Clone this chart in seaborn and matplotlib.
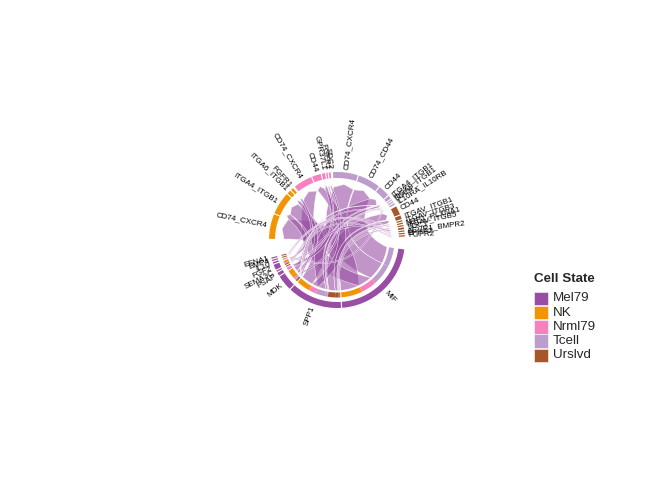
import numpy as np
import pandas as pd
import matplotlib
matplotlib.use("Agg")
import matplotlib.pyplot as plt
import seaborn as sns
from matplotlib.path import Path
from matplotlib.patches import PathPatch, Wedge, Rectangle

# ---------------- data ----------------
cell_states = ["Mel79", "NK", "Nrml79", "Tcell", "Urslvd"]
state_colors = ["#984EA3", "#F29403", "#F781BF", "#BC9DCC", "#A65628"]

ligands = ["MIF", "SPP1", "MDK", "PSAP", "SEMA3C", "FGF2", "IL10", "BMP4", "EFNA1"]

rec_cells = ["NK"] * 4 + ["Nrml79"] * 5 + ["Tcell"] * 7 + ["Urslvd"] * 9
rec_names = ["CD74_CXCR4", "ITGA4_ITGB1", "ITGA6_ITGB1", "FGFR1",
             "CD74_CXCR4", "CD44", "GPR37L1", "FGFR1", "SDC2",
             "CD74_CXCR4", "CD74_CD44", "CD44", "ITGA4_ITGB1", "ITGA9_ITGB1", "SDC4", "IL10RA_IL10RB",
             "CD44", "ITGAV_ITGB1", "ITGAV_ITGB3", "NRP1_PLXNA1", "ITGAV_ITGB5", "SDC1",
             "ACVR1_BMPR2", "EPHA2", "FGFR2"]

link_src = ["MIF", "MIF", "MIF", "MIF",
            "SPP1", "SPP1", "SPP1", "SPP1", "SPP1", "SPP1", "SPP1", "SPP1", "SPP1",
            "MDK", "MDK", "MDK", "MDK", "MDK", "MDK",
            "PSAP", "SEMA3C", "FGF2", "FGF2", "FGF2", "IL10", "BMP4", "EFNA1"]
link_cell = ["Tcell", "Tcell", "Nrml79", "NK",
             "Urslvd", "Urslvd", "Urslvd", "Urslvd", "Tcell", "Tcell", "Tcell", "Nrml79", "NK",
             "NK", "NK", "Nrml79", "Tcell", "Urslvd", "Tcell",
             "Nrml79", "Urslvd", "NK", "Nrml79", "Urslvd", "Tcell", "Urslvd", "Urslvd"]
link_rec = ["CD74_CXCR4", "CD74_CD44", "CD74_CXCR4", "CD74_CXCR4",
            "CD44", "ITGAV_ITGB1", "ITGAV_ITGB3", "ITGAV_ITGB5", "CD44", "ITGA4_ITGB1", "ITGA9_ITGB1", "CD44", "ITGA4_ITGB1",
            "ITGA4_ITGB1", "ITGA6_ITGB1", "SDC2", "SDC4", "SDC1", "ITGA4_ITGB1",
            "GPR37L1", "NRP1_PLXNA1", "FGFR1", "FGFR1", "FGFR2", "IL10RA_IL10RB", "ACVR1_BMPR2", "EPHA2"]
link_val = [20, 18, 15, 20,
            7, 3, 1.0, 1.0, 9, 2, 0.8, 7, 13,
            5, 3, 1.5, 1, 1.5, 0.5,
            2.5, 1.0, 2.0, 1.2, 1.0, 1.2, 1.0, 1.0]

# ---------------- style ----------------
sns.set_theme(style="white")
plt.rcParams["font.family"] = ["Liberation Sans", "DejaVu Sans"]
pal = dict(zip(cell_states, sns.color_palette(state_colors)))

links = pd.DataFrame({"src": link_src, "cell": link_cell, "rec": link_rec, "val": link_val})

# sectors (clockwise order)
sectors = [("Mel79", l, "L") for l in ligands] + [(c, r, "R") for c, r in zip(rec_cells, rec_names)]
vals = []
for c, n, kind in sectors:
    if kind == "L":
        vals.append(links.loc[links.src == n, "val"].sum())
    else:
        vals.append(links.loc[(links.cell == c) & (links.rec == n), "val"].sum())

GAP_SMALL, GAP_GROUP, GAP_BIG1, GAP_BIG2 = 1.0, 2.0, 16.0, 11.0
gaps = []
for i, (c, n, kind) in enumerate(sectors):
    if i == len(sectors) - 1:
        gaps.append(GAP_BIG2)
    else:
        nc, nn, nk = sectors[i + 1]
        if kind != nk:
            gaps.append(GAP_BIG1)
        elif nc != c:
            gaps.append(GAP_GROUP)
        else:
            gaps.append(GAP_SMALL)
scale = (360 - sum(gaps)) / sum(vals)

START = -8.0
sec_start, sec_end = [], []
cur = START
for v, g in zip(vals, gaps):
    sec_start.append(cur)
    sec_end.append(cur - v * scale)
    cur = cur - v * scale - g
sec_mid = [(a + b) / 2 for a, b in zip(sec_start, sec_end)]
key_idx = {}
for i, (c, n, kind) in enumerate(sectors):
    key_idx[(c, n, kind)] = i

# geometry
cx, cy = 337.0, 240.0
R_OUT, R_OUT_W = 68.0, 6.0
R_TP, R_TP_W = 57.5, 5.0
R_SRC = 50.5
R_TGT = 56.0
ARR = 3.0
R_LAB = 71.0
H_RATIO = 0.5

fig = plt.figure(figsize=(7, 5), dpi=96)
ax = fig.add_axes([0, 0, 1, 1])
ax.set_xlim(0, 672)
ax.set_ylim(0, 480)
ax.set_aspect("equal")
ax.axis("off")


def pol(r, deg):
    t = np.deg2rad(deg)
    return np.array([cx + r * np.cos(t), cy + r * np.sin(t)])


def ctrl(a_deg, ra, b_deg, rb, mid):
    """control point of a quadratic link edge bending towards the centre"""
    p, q = pol(ra, a_deg), pol(rb, b_deg)
    m = (p + q) / 2
    d = np.hypot(*(p - q))
    h = d / 2 * H_RATIO
    u = -np.array([np.cos(np.deg2rad(mid)), np.sin(np.deg2rad(mid))])
    return m + u * 2 * h


def ribbon_mid(a, b):
    diff = (b - a) % 360
    if diff > 180:
        diff -= 360
    return a + diff / 2


# allocate link positions inside sectors
links["s_idx"] = [key_idx[("Mel79", s, "L")] for s in links.src]
links["t_idx"] = [key_idx[(c, r, "R")] for c, r in zip(links.cell, links.rec)]
for col in ("s_a1", "s_a2", "t_a1", "t_a2"):
    links[col] = 0.0
for side, other in (("s", "t"), ("t", "s")):
    for idx in links[side + "_idx"].unique():
        sub = links[links[side + "_idx"] == idx].copy()
        sub["d"] = [(sec_mid[idx] - sec_mid[o]) % 360 for o in sub[other + "_idx"]]
        sub = sub.sort_values("d", ascending=False)
        cur = sec_start[idx]
        for li, row in sub.iterrows():
            links.loc[li, side + "_a1"] = cur
            cur = cur - row.val * scale
            links.loc[li, side + "_a2"] = cur

# outer grid
for i, (c, n, kind) in enumerate(sectors):
    ax.add_patch(Wedge((cx, cy), R_OUT, sec_end[i], sec_start[i], width=R_OUT_W,
                       facecolor=pal[c], edgecolor="none"))

# target proportion bars on ligand sectors
for _, row in links.iterrows():
    ax.add_patch(Wedge((cx, cy), R_TP, row.s_a2, row.s_a1, width=R_TP_W,
                       facecolor=pal[row.cell], edgecolor="none"))

# chords
chord_rgba = list(pal["Mel79"]) + [0.6]
order = links.sort_values("val", ascending=False).index
for li in order:
    row = links.loc[li]
    a1, a2, b1, b2 = row.s_a1, row.s_a2, row.t_a1, row.t_a2
    mid = ribbon_mid((a1 + a2) / 2, (b1 + b2) / 2)
    verts, codes = [], []
    for k, a in enumerate(np.linspace(a1, a2, 30)):
        verts.append(pol(R_SRC, a))
        codes.append(Path.MOVETO if k == 0 else Path.LINETO)
    verts += [ctrl(a2, R_SRC, b1, R_TGT - ARR, mid), pol(R_TGT - ARR, b1)]
    codes += [Path.CURVE3, Path.CURVE3]
    verts.append(pol(R_TGT, (b1 + b2) / 2)); codes.append(Path.LINETO)
    verts.append(pol(R_TGT - ARR, b2)); codes.append(Path.LINETO)
    verts += [ctrl(b2, R_TGT - ARR, a1, R_SRC, mid), pol(R_SRC, a1)]
    codes += [Path.CURVE3, Path.CURVE3]
    ax.add_patch(PathPatch(Path(verts, codes), facecolor=chord_rgba,
                           edgecolor="white", linewidth=0.3))

# sector labels
for i, (c, n, kind) in enumerate(sectors):
    a = sec_mid[i] % 360
    x, y = pol(R_LAB, a)
    if a <= 90 or a >= 270:
        rot, ha = (a if a <= 90 else a - 360), "left"
    else:
        rot, ha = a - 180, "right"
    ax.text(x, y, n, rotation=rot, rotation_mode="anchor", ha=ha, va="center",
            fontsize=6, color="black")

# legend
lx, ly_title = 534, 480 - 279
ax.text(lx, ly_title, "Cell State", fontsize=10, fontweight="bold", ha="left", va="center")
pitch = 14.3
for k, s in enumerate(cell_states):
    top = 480 - (291.5 + k * pitch)
    ax.add_patch(Rectangle((lx, top - 13.6), 14, 13.6, facecolor=pal[s], edgecolor="white", linewidth=0.4))
    ax.text(lx + 19, top - 6.8, s, fontsize=10, ha="left", va="center")

fig.savefig("out.png", dpi=96)
